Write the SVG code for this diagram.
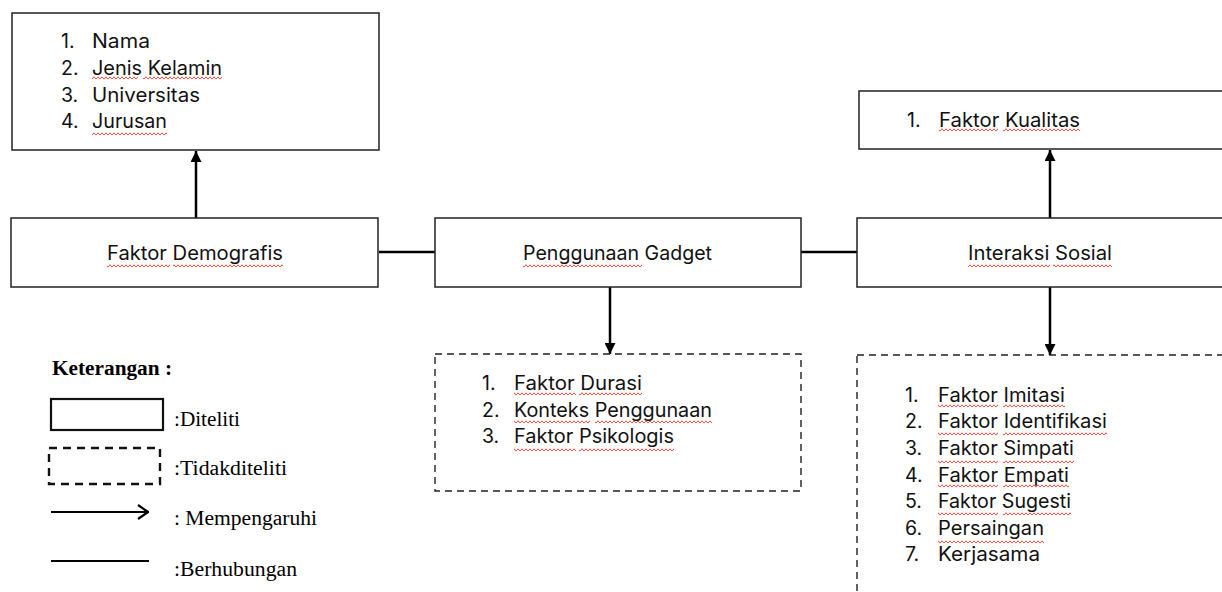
<svg xmlns="http://www.w3.org/2000/svg" width="1222" height="592" viewBox="0 0 1222 592">
<style>
.box{fill:#fff;stroke:#222;stroke-width:1.5}
.dash{fill:none;stroke:#222;stroke-width:1.4;stroke-dasharray:7 5}
.con{stroke:#000;stroke-width:2.5;fill:none}
.t{font-family:Inter,"Noto Sans",sans-serif;font-size:19.5px;fill:#111}
.lg{font-family:"Liberation Serif","Times New Roman",serif;font-size:20.5px;fill:#000}
.sq{fill:url(#wave)}
</style>
<defs>
<pattern id="wave" patternUnits="userSpaceOnUse" x="0" y="0" width="4" height="4">
<polyline points="0,3.2 2,0.8 4,3.2" fill="none" stroke="#e23b2e" stroke-width="0.9"/>
</pattern>
<marker id="ah" markerUnits="userSpaceOnUse" markerWidth="11" markerHeight="11" refX="11" refY="5.5" orient="auto">
<path d="M0,0 L11,5.5 L0,11 z" fill="#000"/>
</marker>
<marker id="oh" markerUnits="userSpaceOnUse" markerWidth="12" markerHeight="16" refX="11" refY="8" orient="auto">
<path d="M1,1 L11,8 L1,15" fill="none" stroke="#000" stroke-width="2.2"/>
</marker>
</defs>
<rect width="1222" height="592" fill="#fff"/>

<g id="connectors">
<line class="con" x1="196" y1="218" x2="196" y2="151" marker-end="url(#ah)"/>
<line class="con" x1="1050" y1="218" x2="1050" y2="150" marker-end="url(#ah)"/>
<line class="con" x1="610" y1="287" x2="610" y2="354" marker-end="url(#ah)"/>
<line class="con" x1="1050" y1="287" x2="1050" y2="355" marker-end="url(#ah)"/>
<line class="con" x1="379" y1="252" x2="435" y2="252"/>
<line class="con" x1="801" y1="252" x2="857" y2="252"/>
</g>

<g id="demografi-list">
<rect class="box" x="12" y="13" width="367" height="137"/>
<text class="t" x="61" y="48">1.</text><text class="t" x="92" y="48" textLength="58" lengthAdjust="spacingAndGlyphs">Nama</text>
<text class="t" x="61" y="75">2.</text><text class="t" x="92" y="75" textLength="130" lengthAdjust="spacingAndGlyphs">Jenis Kelamin</text>
<text class="t" x="61" y="102">3.</text><text class="t" x="92" y="102" textLength="108" lengthAdjust="spacingAndGlyphs">Universitas</text>
<text class="t" x="61" y="128">4.</text><text class="t" x="92" y="128" textLength="75" lengthAdjust="spacingAndGlyphs">Jurusan</text>
<rect class="sq" x="92" y="76" width="46" height="4"/>
<rect class="sq" x="143" y="76" width="79" height="4"/>
<rect class="sq" x="92" y="132" width="75" height="4"/>
</g>

<g id="faktor-demografis">
<rect class="box" x="11" y="218" width="367" height="69"/>
<text class="t" x="107" y="260" textLength="176" lengthAdjust="spacingAndGlyphs">Faktor Demografis</text>
<rect class="sq" x="107" y="264" width="63" height="4"/>
<rect class="sq" x="173" y="264" width="110" height="4"/>
</g>

<g id="penggunaan-gadget">
<rect class="box" x="435" y="218" width="366" height="69"/>
<text class="t" x="523" y="260" textLength="189" lengthAdjust="spacingAndGlyphs">Penggunaan Gadget</text>
<rect class="sq" x="523" y="264" width="119" height="4"/>
</g>

<g id="interaksi-sosial">
<rect class="box" x="857" y="218" width="370" height="69"/>
<text class="t" x="968" y="260" textLength="144" lengthAdjust="spacingAndGlyphs">Interaksi Sosial</text>
<rect class="sq" x="968" y="264" width="82" height="4"/>
<rect class="sq" x="1053" y="264" width="59" height="4"/>
</g>

<g id="faktor-kualitas">
<rect class="box" x="859" y="91" width="368" height="58"/>
<text class="t" x="907" y="127">1.</text><text class="t" x="939" y="127" textLength="141" lengthAdjust="spacingAndGlyphs">Faktor Kualitas</text>
<rect class="sq" x="939" y="128" width="59" height="4"/>
<rect class="sq" x="1003" y="128" width="77" height="4"/>
</g>

<g id="penggunaan-list">
<rect class="dash" x="435" y="354" width="366" height="137"/>
<text class="t" x="482" y="390">1.</text><text class="t" x="514" y="390" textLength="128" lengthAdjust="spacingAndGlyphs">Faktor Durasi</text>
<text class="t" x="482" y="417">2.</text><text class="t" x="514" y="417" textLength="198" lengthAdjust="spacingAndGlyphs">Konteks Penggunaan</text>
<text class="t" x="482" y="443">3.</text><text class="t" x="514" y="443" textLength="160" lengthAdjust="spacingAndGlyphs">Faktor Psikologis</text>
<rect class="sq" x="514" y="392" width="62" height="4"/>
<rect class="sq" x="579" y="392" width="63" height="4"/>
<rect class="sq" x="514" y="420" width="76" height="4"/>
<rect class="sq" x="595" y="420" width="117" height="4"/>
<rect class="sq" x="514" y="448" width="62" height="4"/>
<rect class="sq" x="579" y="448" width="95" height="4"/>
</g>

<g id="interaksi-list">
<rect class="dash" x="857" y="355" width="380" height="260"/>
<text class="t" x="905" y="402">1.</text><text class="t" x="938" y="402" textLength="127" lengthAdjust="spacingAndGlyphs">Faktor Imitasi</text>
<text class="t" x="905" y="428">2.</text><text class="t" x="938" y="428" textLength="169" lengthAdjust="spacingAndGlyphs">Faktor Identifikasi</text>
<text class="t" x="905" y="455">3.</text><text class="t" x="938" y="455" textLength="136" lengthAdjust="spacingAndGlyphs">Faktor Simpati</text>
<text class="t" x="905" y="482">4.</text><text class="t" x="938" y="482" textLength="131" lengthAdjust="spacingAndGlyphs">Faktor Empati</text>
<text class="t" x="905" y="508">5.</text><text class="t" x="938" y="508" textLength="133" lengthAdjust="spacingAndGlyphs">Faktor Sugesti</text>
<text class="t" x="905" y="535">6.</text><text class="t" x="938" y="535" textLength="106" lengthAdjust="spacingAndGlyphs">Persaingan</text>
<text class="t" x="905" y="561">7.</text><text class="t" x="938" y="561" textLength="102" lengthAdjust="spacingAndGlyphs">Kerjasama</text>
<rect class="sq" x="938" y="404" width="60" height="4"/>
<rect class="sq" x="1003" y="404" width="62" height="4"/>
<rect class="sq" x="938" y="432" width="60" height="4"/>
<rect class="sq" x="1003" y="432" width="104" height="4"/>
<rect class="sq" x="938" y="460" width="60" height="4"/>
<rect class="sq" x="1003" y="460" width="71" height="4"/>
<rect class="sq" x="938" y="484" width="60" height="4"/>
<rect class="sq" x="1003" y="484" width="66" height="4"/>
<rect class="sq" x="938" y="512" width="60" height="4"/>
<rect class="sq" x="1003" y="512" width="68" height="4"/>
<rect class="sq" x="938" y="540" width="106" height="4"/>
</g>

<g id="legend">
<text class="lg" x="52" y="375" font-weight="bold" textLength="120" lengthAdjust="spacingAndGlyphs">Keterangan :</text>
<rect x="51" y="399" width="112" height="31" fill="none" stroke="#111" stroke-width="2.2"/>
<text class="lg" x="174" y="426" textLength="66" lengthAdjust="spacingAndGlyphs">:Diteliti</text>
<rect x="49" y="448" width="111" height="36" fill="none" stroke="#111" stroke-width="2.4" stroke-dasharray="8 6"/>
<text class="lg" x="174" y="475" textLength="113" lengthAdjust="spacingAndGlyphs">:Tidakditeliti</text>
<line x1="51" y1="512" x2="148" y2="512" stroke="#000" stroke-width="2" marker-end="url(#oh)"/>
<text class="lg" x="174" y="525" textLength="143" lengthAdjust="spacingAndGlyphs">: Mempengaruhi</text>
<line x1="51" y1="561" x2="149" y2="561" stroke="#000" stroke-width="2.2"/>
<text class="lg" x="174" y="576" textLength="123" lengthAdjust="spacingAndGlyphs">:Berhubungan</text>
</g>
</svg>
